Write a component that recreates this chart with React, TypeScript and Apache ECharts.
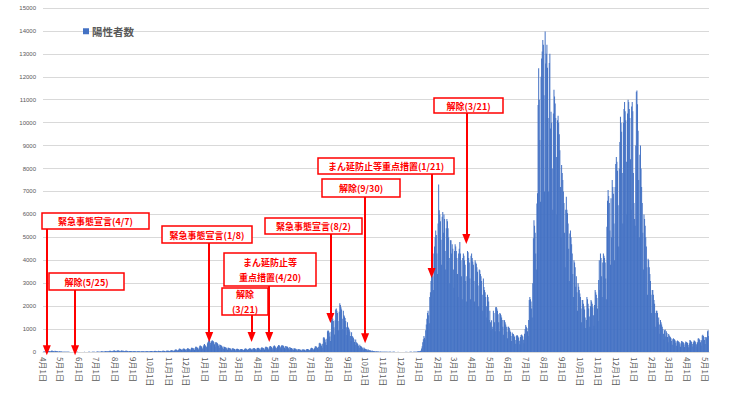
import React, { useEffect, useRef } from "react";
import * as echarts from "echarts";

// Daily positive cases. Every array starts on a Wednesday; one row = one week (Wed..Tue).
// 2020-04-01 .. 2021-01-05
const casesFrom20200401: number[] = [
  12, 18, 20, 15, 10, 8, 22,
  30, 38, 45, 40, 28, 20, 42,
  55, 60, 48, 44, 30, 22, 50,
  45, 40, 38, 30, 22, 15, 30,
  28, 25, 22, 18, 14, 10, 12,
  15, 12, 14, 10, 8, 6, 9,
  8, 7, 6, 5, 3, 2, 5,
  5, 4, 3, 2, 1, 1, 3,
  4, 6, 8, 5, 2, 1, 4,
  5, 4, 3, 2, 1, 2, 3,
  6, 4, 5, 3, 2, 1, 4,
  7, 8, 6, 5, 3, 2, 6,
  10, 12, 9, 8, 5, 4, 9,
  14, 18, 20, 16, 12, 8, 16,
  24, 28, 30, 26, 20, 14, 25,
  36, 40, 38, 34, 28, 18, 35,
  48, 55, 50, 46, 36, 24, 45,
  58, 64, 62, 55, 42, 30, 52,
  66, 70, 64, 58, 45, 30, 55,
  60, 58, 55, 50, 40, 28, 48,
  54, 52, 50, 44, 35, 24, 42,
  45, 44, 40, 36, 30, 20, 36,
  40, 38, 36, 32, 26, 18, 34,
  35, 34, 32, 30, 24, 16, 30,
  34, 35, 30, 28, 22, 15, 28,
  38, 40, 36, 32, 26, 18, 34,
  44, 42, 40, 36, 30, 20, 38,
  48, 50, 46, 40, 32, 22, 42,
  50, 48, 45, 42, 34, 24, 44,
  55, 52, 50, 46, 36, 26, 48,
  60, 58, 55, 50, 40, 30, 55,
  72, 75, 70, 62, 50, 35, 68,
  98, 110, 105, 92, 70, 50, 95,
  140, 150, 135, 120, 95, 65, 125,
  148, 145, 140, 125, 100, 70, 130,
  160, 155, 150, 135, 105, 75, 140,
  185, 190, 175, 160, 125, 90, 170,
  225, 230, 210, 190, 150, 105, 200,
  270, 280, 260, 235, 180, 130, 250,
  320, 350, 300, 260, 230, 200, 380,
];

// 2021-01-06 .. 2022-01-04
const casesFrom20210106: number[] = [
  440, 500, 520, 480, 400, 290, 470,
  510, 490, 470, 430, 340, 230, 420,
  420, 400, 380, 340, 270, 180, 330,
  300, 290, 270, 240, 190, 130, 240,
  220, 215, 200, 180, 140, 95, 180,
  180, 175, 165, 150, 120, 80, 150,
  160, 155, 145, 130, 105, 70, 135,
  140, 138, 130, 120, 95, 65, 125,
  130, 128, 120, 110, 90, 60, 115,
  148, 150, 140, 125, 100, 70, 135,
  158, 160, 150, 138, 110, 75, 145,
  168, 170, 160, 145, 115, 80, 155,
  178, 180, 170, 155, 120, 85, 165,
  195, 200, 190, 170, 135, 95, 185,
  225, 230, 215, 195, 155, 105, 210,
  255, 260, 245, 220, 175, 120, 240,
  275, 280, 250, 210, 170, 110, 230,
  260, 300, 290, 265, 205, 140, 280,
  290, 285, 270, 245, 190, 130, 260,
  240, 235, 225, 200, 160, 110, 215,
  180, 178, 170, 150, 120, 85, 165,
  150, 148, 140, 125, 100, 70, 135,
  120, 118, 112, 100, 80, 55, 110,
  110, 108, 104, 95, 75, 52, 105,
  128, 130, 124, 112, 90, 62, 122,
  175, 180, 170, 155, 125, 85, 165,
  240, 250, 235, 215, 170, 120, 230,
  380, 400, 375, 340, 270, 190, 360,
  620, 650, 600, 540, 430, 300, 580,
  900, 950, 920, 850, 680, 480, 880,
  1400, 1500, 1450, 1350, 1080, 760, 1380,
  1850, 1900, 1800, 1700, 1350, 950, 1750,
  2130, 2050, 1950, 1850, 1450, 1000, 1800,
  1600, 1550, 1480, 1350, 1080, 740, 1300,
  1100, 1050, 980, 890, 700, 480, 860,
  700, 670, 620, 560, 440, 300, 540,
  420, 400, 370, 330, 260, 180, 320,
  260, 250, 230, 200, 160, 110, 200,
  150, 145, 135, 120, 95, 65, 115,
  80, 78, 72, 64, 50, 35, 62,
  42, 40, 38, 34, 27, 18, 33,
  26, 25, 23, 20, 16, 11, 20,
  16, 15, 14, 12, 10, 7, 12,
  10, 11, 9, 8, 6, 4, 8,
  8, 9, 7, 6, 5, 3, 7,
  6, 7, 6, 5, 4, 2, 5,
  5, 6, 4, 4, 3, 2, 5,
  5, 4, 5, 3, 2, 2, 4,
  6, 5, 6, 4, 3, 2, 5,
  8, 9, 7, 6, 5, 4, 8,
  14, 16, 15, 13, 10, 8, 18,
  28, 32, 30, 35, 40, 60, 150,
];

// 2022-01-05 .. 2023-01-03
const casesFrom20220105: number[] = [
  250, 420, 560, 700, 620, 550, 950,
  1200, 1450, 1700, 1800, 1600, 1250, 2400,
  2600, 3100, 3500, 3700, 3300, 2700, 4300,
  4600, 5000, 5300, 5100, 4300, 3400, 5600,
  7300, 6180, 6000, 5700, 4900, 3800, 5900,
  6100, 5200, 6000, 5800, 4400, 3600, 5400,
  5800, 5700, 5400, 5000, 4100, 3000, 4870,
  4870, 4300, 4700, 4500, 3600, 2800, 4400,
  4700, 4600, 4400, 4100, 3400, 2400, 4300,
  4500, 4800, 4300, 4000, 3300, 2300, 4100,
  4290, 4200, 4000, 3800, 3100, 2200, 3300,
  4400, 4350, 4100, 3900, 3200, 2300, 4200,
  4300, 4100, 3950, 3800, 3100, 2200, 4000,
  3900, 3850, 3700, 3500, 2900, 2000, 3600,
  3560, 3400, 3300, 3100, 2500, 1800, 3200,
  2830, 2700, 2600, 2400, 2000, 1500, 2500,
  2400, 2200, 1400, 1800, 1300, 950, 1380,
  1100, 1000, 1800, 1700, 1300, 900, 1950,
  1960, 1900, 1800, 1650, 1300, 900, 1700,
  1670, 1600, 1500, 1400, 1100, 750, 1400,
  1380, 1300, 1200, 1100, 880, 600, 1100,
  1100, 1050, 950, 880, 700, 480, 850,
  800, 780, 720, 660, 520, 360, 700,
  740, 720, 680, 620, 490, 340, 650,
  740, 760, 720, 680, 530, 380, 800,
  1000, 1180, 1100, 1050, 900, 700, 1400,
  2270, 2400, 2300, 2200, 1900, 1500, 3000,
  4960, 5750, 5500, 5200, 4300, 3600, 6480,
  6920, 10770, 12370, 11000, 9240, 6550, 12000,
  12800, 13100, 13600, 13400, 11200, 7000, 13970,
  12580, 13000, 13400, 12400, 10200, 7000, 12600,
  13000, 9750, 10480, 10000, 8000, 6200, 10400,
  11430, 11140, 10840, 10200, 8500, 6000, 10100,
  10300, 10000, 9500, 8800, 7200, 5000, 8150,
  7800, 7500, 7000, 6500, 5200, 3700, 6200,
  6770, 6200, 6050, 5600, 4500, 3100, 5170,
  5300, 5000, 4700, 4300, 3400, 2400, 4000,
  3900, 3700, 2850, 3300, 2600, 1800, 3000,
  2850, 2700, 2550, 2400, 1900, 1300, 2270,
  2270, 2100, 1980, 1850, 1500, 1050, 1400,
  2400, 2300, 2100, 1900, 1550, 1100, 2000,
  2270, 2200, 2100, 1950, 1600, 1150, 2050,
  2700, 2600, 2500, 2350, 1900, 1350, 3140,
  4000, 2700, 4300, 4100, 3300, 2400, 3900,
  4300, 4200, 4100, 3900, 3200, 2300, 5460,
  6600, 7060, 6800, 6500, 5300, 3800, 6700,
  5000, 7500, 7200, 6900, 5600, 4000, 7200,
  8200, 8500, 8300, 7900, 6400, 4600, 8000,
  9160, 10260, 10000, 9600, 7800, 5600, 10000,
  10600, 10900, 10500, 10100, 8300, 6000, 10400,
  11000, 10900, 10600, 10200, 8400, 6200, 10700,
  10900, 10500, 7800, 6500, 5800, 5500, 9000,
];

// 2023-01-04 .. 2023-05-07
const casesFrom20230104: number[] = [
  11350, 11400, 10800, 9650, 7500, 5000, 8600,
  9000, 8000, 7200, 6500, 5200, 3600, 6000,
  5800, 5500, 5000, 4600, 3700, 2500, 4070,
  4000, 3700, 3400, 3100, 2500, 1700, 2700,
  2700, 2500, 2270, 2100, 1700, 1100, 1800,
  1800, 1700, 1300, 1500, 1200, 800, 1400,
  1300, 1200, 1100, 1000, 800, 550, 950,
  980, 680, 900, 830, 650, 430, 780,
  720, 680, 640, 600, 480, 320, 560,
  600, 570, 540, 500, 400, 270, 470,
  500, 480, 450, 420, 340, 230, 400,
  480, 460, 440, 410, 330, 220, 390,
  460, 440, 420, 390, 310, 210, 380,
  520, 500, 470, 440, 350, 240, 430,
  500, 490, 460, 430, 340, 230, 420,
  590, 600, 560, 520, 420, 280, 510,
  720, 750, 700, 650, 520, 350, 650,
  600, 650, 900, 950, 700,
];

const seriesName = "陽性者数";

// Annotations (policy events)
const eventLabels = [
  "緊急事態宣言(4/7)",
  "解除(5/25)",
  "緊急事態宣言(1/8)",
  "解除\n(3/21)",
  "まん延防止等\n重点措置(4/20)",
  "緊急事態宣言(8/2)",
  "解除(9/30)",
  "まん延防止等重点措置(1/21)",
  "解除(3/21)",
];
const eventDates = [
  "2020-04-07",
  "2020-05-25",
  "2021-01-08",
  "2021-03-21",
  "2021-04-20",
  "2021-08-02",
  "2021-09-30",
  "2022-01-21",
  "2022-03-21",
];
const arrowFrom = [5400, 2700, 4750, 1610, 2880, 5150, 6760, 7800, 10470];
const arrowTo = [80, 80, 650, 650, 650, 1480, 600, 3450, 4930];

// Layout of the annotation boxes (pixels)
const boxLayout = [
  { x: 42, y: 213, w: 107, h: 16 },
  { x: 49, y: 273, w: 75, h: 17 },
  { x: 162, y: 226, w: 90, h: 17 },
  { x: 222, y: 288, w: 46, h: 27 },
  { x: 224, y: 253, w: 92, h: 33 },
  { x: 265, y: 218, w: 97, h: 16 },
  { x: 322, y: 179, w: 78, h: 18 },
  { x: 318, y: 158, w: 136, h: 16 },
  { x: 434, y: 98, w: 69, h: 15 },
];

const allCases = [
  ...casesFrom20200401,
  ...casesFrom20210106,
  ...casesFrom20220105,
  ...casesFrom20230104,
];

function pad(n: number) {
  return n < 10 ? "0" + n : "" + n;
}

const categories: string[] = (() => {
  const out: string[] = [];
  const start = Date.UTC(2020, 3, 1);
  for (let i = 0; i < allCases.length; i++) {
    const d = new Date(start + i * 86400000);
    out.push(`${d.getUTCFullYear()}-${pad(d.getUTCMonth() + 1)}-${pad(d.getUTCDate())}`);
  }
  return out;
})();

const FONT = '"Noto Sans CJK JP", "Noto Sans", sans-serif';
const RED = "#FF0000";

export default function App() {
  const ref = useRef<HTMLDivElement>(null);
  useEffect(() => {
    document.body.style.margin = "0";
    if (!ref.current) return;
    const chart = echarts.init(ref.current, undefined, { renderer: "svg" });

    const graphics: any[] = [];
    boxLayout.forEach((b, i) => {
      graphics.push({
        type: "rect",
        z: 100,
        shape: { x: b.x, y: b.y, width: b.w, height: b.h },
        style: { fill: "#ffffff", stroke: RED, lineWidth: 1.5 },
      });
      graphics.push({
        type: "text",
        z: 101,
        x: b.x + b.w / 2,
        y: b.y + b.h / 2 + 0.5,
        style: {
          text: eventLabels[i],
          fill: RED,
          fontFamily: FONT,
          fontSize: 9,
          fontWeight: "bold",
          align: "center",
          verticalAlign: "middle",
          lineHeight: 15,
        },
      });
    });

    const markLineData = eventDates.map((d, i) => [
      { coord: [d, arrowFrom[i]] },
      { coord: [d, arrowTo[i]] },
    ]);

    chart.setOption({
      animation: false,
      backgroundColor: "#ffffff",
      textStyle: { fontFamily: FONT },
      grid: { left: 43, right: 31, top: 8, bottom: 44, containLabel: false },
      legend: {
        data: [seriesName],
        left: 78,
        top: 21,
        icon: "rect",
        itemWidth: 6,
        itemHeight: 6,
        itemGap: 4,
        textStyle: { fontSize: 10.5, color: "#595959", fontFamily: FONT, fontWeight: "bold", padding: [0, 0, 0, -2] },
      },
      xAxis: {
        type: "category",
        data: categories,
        boundaryGap: true,
        axisLine: { lineStyle: { color: "#d9d9d9", width: 1 } },
        axisTick: { show: false },
        axisLabel: {
          interval: (_idx: number, value: string) => value.endsWith("-01"),
          rotate: -90,
          fontSize: 8,
          color: "#595959",
          margin: 5,
          fontFamily: FONT,
          formatter: (value: string) => {
            const parts = value.split("-");
            return `${parseInt(parts[1], 10)}月${parseInt(parts[2], 10)}日`;
          },
        },
      },
      yAxis: {
        type: "value",
        min: 0,
        max: 15000,
        interval: 1000,
        axisLine: { show: false },
        axisTick: { show: false },
        axisLabel: {
          fontSize: 6,
          color: "#595959",
          margin: 7,
          fontFamily: "Liberation Sans, sans-serif",
          formatter: (v: number) => String(v),
        },
        splitLine: { lineStyle: { color: "#d9d9d9", width: 1 } },
      },
      series: [
        {
          name: seriesName,
          type: "bar",
          data: allCases,
          itemStyle: { color: "#4472C4" },
          barCategoryGap: "15%",
          markLine: {
            silent: true,
            symbol: ["none", "triangle"],
            symbolSize: [8, 10],
            label: { show: false },
            lineStyle: { color: RED, width: 2, type: "solid" },
            itemStyle: { color: RED },
            emphasis: { disabled: true },
            data: markLineData,
            z: 90,
          },
        },
      ],
      graphic: graphics,
    });
    return () => chart.dispose();
  }, []);
  return <div ref={ref} style={{ width: 740, height: 396 }} />;
}
